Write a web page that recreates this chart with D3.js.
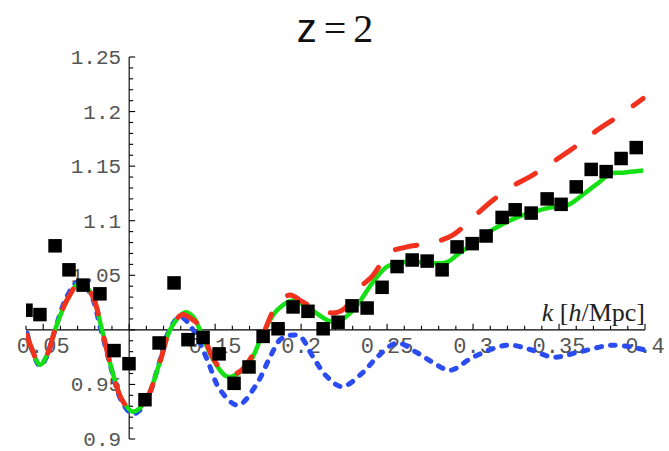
<!DOCTYPE html>
<html>
<head>
<meta charset="utf-8">
<script src="https://cdn.jsdelivr.net/npm/d3@7"></script>
<style>
  html, body { margin: 0; padding: 0; background: #fff; }
  svg { display: block; }
</style>
</head>
<body>
<svg id="chart" width="669" height="451"></svg>
<script>
// Ratio of power spectra at z = 2 versus wavenumber k [h/Mpc]

// Measured ratio (black squares)
const dataK = [0.0400, 0.0481, 0.0569, 0.0650, 0.0732, 0.0830, 0.0912, 0.0999, 0.1092, 0.1174,
               0.1261, 0.1342, 0.1430, 0.1523, 0.1610, 0.1697, 0.1779, 0.1866, 0.1953, 0.2040,
               0.2128, 0.2215, 0.2296, 0.2384, 0.2471, 0.2558, 0.2646, 0.2733, 0.2820, 0.2907,
               0.2995, 0.3076, 0.3169, 0.3245, 0.3338, 0.3431, 0.3512, 0.3600, 0.3687, 0.3774,
               0.3861, 0.3949];
const dataV = [1.018, 1.014, 1.077, 1.055, 1.041, 1.033, 0.981, 0.969, 0.936, 0.988,
               1.043, 0.991, 0.993, 0.978, 0.951, 0.966, 0.994, 1.001, 1.021, 1.017,
               1.001, 1.007, 1.022, 1.020, 1.039, 1.058, 1.064, 1.063, 1.055, 1.076,
               1.079, 1.086, 1.103, 1.110, 1.107, 1.120, 1.115, 1.131, 1.147, 1.145,
               1.157, 1.167];

// Full model (green solid)
const greenK = [0.0406, 0.0435, 0.0481, 0.0522, 0.0569, 0.0639, 0.0714, 0.0784, 0.0842, 0.0900,
                0.0958, 0.1022, 0.1092, 0.1174, 0.1238, 0.1325, 0.1372, 0.1412, 0.1488, 0.1575,
                0.1691, 0.1779, 0.1860, 0.1953, 0.2035, 0.2151, 0.2209, 0.2302, 0.2419, 0.2500,
                0.2593, 0.2692, 0.2791, 0.2849, 0.2925, 0.3024, 0.3117, 0.3256, 0.3349, 0.3448,
                0.3547, 0.3640, 0.3739, 0.3797, 0.3873, 0.3989];
const greenV = [0.995, 0.982, 0.968, 0.977, 1.000, 1.0275, 1.043, 1.032, 1.000, 0.963,
                0.936, 0.925, 0.934, 0.968, 1.000, 1.016, 1.012, 1.000, 0.973, 0.957,
                0.968, 0.997, 1.018, 1.027, 1.021, 1.009, 1.007, 1.018, 1.044, 1.058,
                1.062, 1.062, 1.061, 1.062, 1.071, 1.081, 1.092, 1.103, 1.108, 1.112,
                1.114, 1.124, 1.136, 1.143, 1.144, 1.146];

// Alternative model (red dashed)
const redK = [0.0406, 0.0435, 0.0481, 0.0522, 0.0569, 0.0639, 0.0714, 0.0784, 0.0842, 0.0900,
              0.0958, 0.1022, 0.1092, 0.1174, 0.1238, 0.1308, 0.1372, 0.1412, 0.1488, 0.1569,
              0.1645, 0.1744, 0.1860, 0.1936, 0.1994, 0.2052, 0.2151, 0.2209, 0.2256, 0.2343,
              0.2413, 0.2518, 0.2616, 0.2768, 0.2884, 0.3000, 0.3117, 0.3233, 0.3349, 0.3466,
              0.3605, 0.3722, 0.3838, 0.3989];
const redV = [0.995, 0.982, 0.968, 0.977, 1.000, 1.0275, 1.043, 1.032, 1.000, 0.963,
              0.936, 0.925, 0.934, 0.968, 1.000, 1.014, 1.009, 1.003, 0.974, 0.959,
              0.962, 0.984, 1.023, 1.032, 1.027, 1.022, 1.016, 1.016, 1.020, 1.039,
              1.049, 1.071, 1.076, 1.080, 1.087, 1.103, 1.119, 1.132, 1.142, 1.154,
              1.169, 1.183, 1.195, 1.212];

// Linear oscillations only (blue dotted)
const blueK = [0.0406, 0.0435, 0.0481, 0.0522, 0.0569, 0.0633, 0.0703, 0.0772, 0.0836, 0.0900,
               0.0958, 0.1022, 0.1092, 0.1168, 0.1226, 0.1296, 0.1372, 0.1453, 0.1529, 0.1633,
               0.1744, 0.1819, 0.1878, 0.1936, 0.1994, 0.2070, 0.2151, 0.2238, 0.2360, 0.2442,
               0.2558, 0.2675, 0.2768, 0.2867, 0.3000, 0.3198, 0.3332, 0.3466, 0.3623, 0.3815,
               0.3989];
const blueV = [0.997, 0.982, 0.967, 0.976, 1.000, 1.029, 1.044, 1.034, 1.000, 0.962,
               0.934, 0.923, 0.932, 0.966, 0.997, 1.012, 1.000, 0.973, 0.945, 0.931,
               0.951, 0.975, 0.991, 0.995, 0.994, 0.975, 0.957, 0.948, 0.961, 0.975,
               0.988, 0.979, 0.970, 0.963, 0.975, 0.986, 0.982, 0.975, 0.980, 0.986,
               0.982];

// Tick labels
const xTickValues = [0.05, 0.15, 0.2, 0.25, 0.3, 0.35, 0.4];
const xTickLabels = ["0.05", "0.15", "0.2", "0.25", "0.3", "0.35", "0.4"];
const yTickValues = [0.9, 0.95, 1.05, 1.1, 1.15, 1.2, 1.25];
const yTickLabels = ["0.9", "0.95", "1.05", "1.1", "1.15", "1.2", "1.25"];

const svg = d3.select("#chart");
const x = d3.scaleLinear().domain([0.04, 0.4]).range([26, 645]);
const y = d3.scaleLinear().domain([0.9, 1.25]).range([439, 57]);
const x0 = 0.1, y0 = 1.0;   // axes cross here

svg.append("defs").append("clipPath").attr("id", "plotClip")
  .append("rect").attr("x", x(0.04)).attr("y", 0).attr("width", 669).attr("height", 451);

// Title
const title = svg.append("text").attr("x", 335).attr("y", 42)
  .attr("text-anchor", "middle").attr("font-size", 40).attr("fill", "#111");
title.append("tspan").attr("font-family", "'Liberation Sans', Arial, sans-serif").text("z");
title.append("tspan").attr("font-family", "'Liberation Serif', serif").attr("dx", 7).text("=");
title.append("tspan").attr("font-family", "'Liberation Serif', serif").attr("dx", 7).text("2");

// Tick labels (drawn beneath the curves)
const mono = "'Liberation Mono', 'Courier New', monospace";
svg.append("g").selectAll("text").data(xTickValues).join("text")
  .attr("x", d => x(d)).attr("y", y(y0) + 23)
  .attr("text-anchor", "middle").attr("font-family", mono).attr("font-size", 22).attr("fill", "#555")
  .text((d, i) => xTickLabels[i]);
svg.append("g").selectAll("text").data(yTickValues).join("text")
  .attr("x", x(x0) - 8).attr("y", d => y(d) + 7)
  .attr("text-anchor", "end").attr("font-family", mono).attr("font-size", 21).attr("fill", "#555")
  .text((d, i) => yTickLabels[i]);

// Axes
const axes = svg.append("g").attr("stroke", "#000").attr("stroke-width", 1.1);
axes.append("line").attr("x1", x(0.04)).attr("x2", x(0.4)).attr("y1", y(y0)).attr("y2", y(y0));
axes.append("line").attr("x1", x(x0)).attr("x2", x(x0)).attr("y1", y(0.9)).attr("y2", y(1.25));
const xMinor = d3.range(4, 41).map(i => i / 100);
const yMinor = d3.range(90, 126).map(i => i / 100);
const isMajor = v => Math.abs(v * 20 - Math.round(v * 20)) < 1e-6;
axes.append("g").selectAll("line").data(xMinor).join("line")
  .attr("x1", d => x(d)).attr("x2", d => x(d))
  .attr("y1", y(y0)).attr("y2", d => y(y0) - (isMajor(d) ? 6 : 4));
axes.append("g").selectAll("line").data(yMinor).join("line")
  .attr("y1", d => y(d)).attr("y2", d => y(d))
  .attr("x1", x(x0)).attr("x2", d => x(x0) + (isMajor(d) ? 6 : 4));

// Curves
const line = d3.line().x(d => x(d[0])).y(d => y(d[1])).curve(d3.curveCatmullRom.alpha(0.5));
const plot = svg.append("g").attr("clip-path", "url(#plotClip)");
plot.append("path").datum(d3.zip(blueK, blueV)).attr("d", line)
  .attr("fill", "none").attr("stroke", "#2a4cf0").attr("stroke-width", 5)
  .attr("stroke-linecap", "round").attr("stroke-dasharray", "5,9");
plot.append("path").datum(d3.zip(greenK, greenV)).attr("d", line)
  .attr("fill", "none").attr("stroke", "#14e014").attr("stroke-width", 4.5);
plot.append("path").datum(d3.zip(redK, redV)).attr("d", line)
  .attr("fill", "none").attr("stroke", "#f2321e").attr("stroke-width", 5)
  .attr("stroke-linecap", "round").attr("stroke-dasharray", "22,25");

// Data squares
const s = 13.5;
plot.append("g").selectAll("rect").data(d3.zip(dataK, dataV)).join("rect")
  .attr("x", d => x(d[0]) - s / 2).attr("y", d => y(d[1]) - s / 2)
  .attr("width", s).attr("height", s).attr("fill", "#000");

// Axis label
const xl = svg.append("text").attr("x", 645).attr("y", 321).attr("text-anchor", "end")
  .attr("font-family", "'Liberation Serif', 'Times New Roman', serif").attr("font-size", 26).attr("fill", "#222");
xl.append("tspan").attr("font-style", "italic").text("k");
xl.append("tspan").text(" [");
xl.append("tspan").attr("font-style", "italic").text("h");
xl.append("tspan").text("/Mpc]");
</script>
</body>
</html>
